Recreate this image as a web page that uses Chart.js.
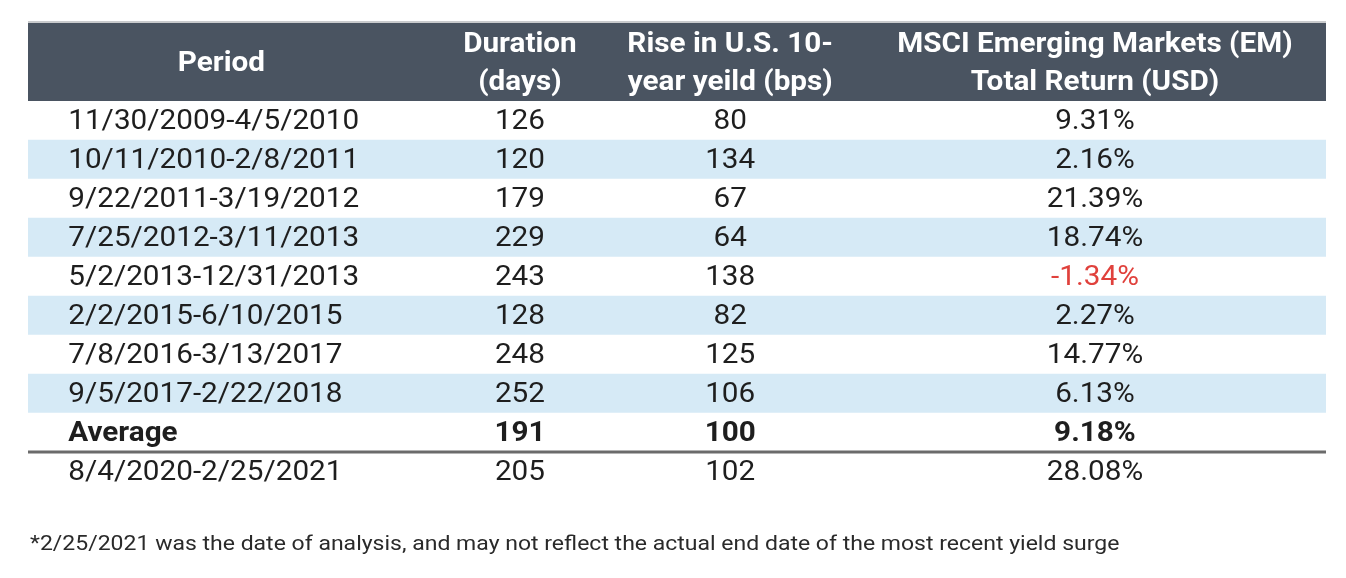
<!DOCTYPE html>
<html>
<head>
<meta charset="utf-8">
<script src="https://cdn.jsdelivr.net/npm/chart.js@4"></script>
<style>
    html, body { margin: 0; padding: 0; background: #ffffff; }
    #wrap { width: 1346px; height: 578px; }
</style>
</head>
<body>
<div id="wrap"><canvas id="table-chart"></canvas></div>
<script>
// 数据
const periods = [
    '11/30/2009-4/5/2010',
    '10/11/2010-2/8/2011',
    '9/22/2011-3/19/2012',
    '7/25/2012-3/11/2013',
    '5/2/2013-12/31/2013',
    '2/2/2015-6/10/2015',
    '7/8/2016-3/13/2017',
    '9/5/2017-2/22/2018',
    'Average',
    '8/4/2020-2/25/2021'
];
const durations = [126, 120, 179, 229, 243, 128, 248, 252, 191, 205];
const yieldRise = [80, 134, 67, 64, 138, 82, 125, 106, 100, 102];
const emReturns = [9.31, 2.16, 21.39, 18.74, -1.34, 2.27, 14.77, 6.13, 9.18, 28.08];
const headers = [
    ['Period'],
    ['Duration', '(days)'],
    ['Rise in U.S. 10-', 'year yeild (bps)'],
    ['MSCI Emerging Markets (EM)', 'Total Return (USD)']
];
const footnote = '*2/25/2021 was the date of analysis, and may not reflect the actual end date of the most recent yield surge';

// 列位置 (x 轴 0-100)
const colX = [3.1, 37.9, 54.1, 82.2];
const headerX = [14.9, 37.9, 54.1, 82.2];
const FONT = 'Roboto, "Liberation Sans", sans-serif';

// 横向拉伸绘制文字
function drawText(ctx, text, px, py, sx, align) {
    ctx.save();
    ctx.translate(px, py);
    ctx.scale(sx, 1);
    ctx.textAlign = align;
    ctx.fillText(text, 0, 0);
    ctx.restore();
}

// 绘制表格文字
const tablePlugin = {
    id: 'tableText',
    afterDatasetsDraw(chart) {
        const ctx = chart.ctx;
        const x = chart.scales.x;
        const y = chart.scales.y;
        const area = chart.chartArea;
        const headTop = 23;

        ctx.save();
        ctx.textBaseline = 'middle';
        // 表头
        ctx.fillStyle = '#c9cbcd';
        ctx.fillRect(area.left, headTop - 2, area.right - area.left, 2);
        ctx.fillStyle = '#4a5461';
        ctx.fillRect(area.left, headTop, area.right - area.left, area.top - headTop);
        ctx.fillStyle = '#ffffff';
        ctx.font = 'bold 27px ' + FONT;
        const headMid = (headTop + area.top) / 2 + 2;
        headers.forEach((lines, i) => {
            const px = x.getPixelForValue(headerX[i]);
            lines.forEach((line, j) => {
                const py = lines.length === 1 ? headMid : headMid + (j - 0.5) * 38;
                drawText(ctx, line, px, py, 1.1, 'center');
            });
        });

        // 表格内容
        periods.forEach((p, i) => {
            const py = y.getPixelForValue(i) + 2;
            const bold = p === 'Average';
            ctx.font = (bold ? 'bold ' : '') + '27px ' + FONT;
            ctx.fillStyle = '#1e1e1e';
            drawText(ctx, p, x.getPixelForValue(colX[0]), py, 1.1, 'left');
            drawText(ctx, String(durations[i]), x.getPixelForValue(colX[1]), py, 1.1, 'center');
            drawText(ctx, String(yieldRise[i]), x.getPixelForValue(colX[2]), py, 1.1, 'center');
            ctx.fillStyle = emReturns[i] < 0 ? '#e0413c' : '#1e1e1e';
            drawText(ctx, emReturns[i].toFixed(2) + '%', x.getPixelForValue(colX[3]), py, 1.1, 'center');
        });

        // 平均值下方分隔线
        const avgIdx = periods.indexOf('Average');
        const lineY = (y.getPixelForValue(avgIdx) + y.getPixelForValue(avgIdx + 1)) / 2;
        ctx.fillStyle = '#6b6b6b';
        ctx.fillRect(area.left, lineY - 1.5, area.right - area.left, 3);

        // 脚注
        ctx.font = '19.5px ' + FONT;
        ctx.fillStyle = '#2a2a2a';
        drawText(ctx, footnote, 30, 545, 1.18, 'left');
        ctx.restore();
    }
};

// 行背景 (隔行浅蓝, 平均值及之后为白色)
const avgRow = periods.indexOf('Average');
const rowColors = periods.map((p, i) => (i % 2 === 1 && i < avgRow) ? '#d6eaf6' : '#ffffff');

const canvas = document.getElementById('table-chart');
window.tableChart = new Chart(canvas, {
    type: 'bar',
    data: {
        labels: periods,
        datasets: [{
            data: periods.map(() => [0, 100]),
            backgroundColor: rowColors,
            borderWidth: 0,
            barPercentage: 1,
            categoryPercentage: 1
        }]
    },
    options: {
        indexAxis: 'y',
        responsive: true,
        maintainAspectRatio: false,
        animation: false,
        layout: {
            padding: { left: 28, right: 20, top: 101, bottom: 87 }
        },
        scales: {
            x: { type: 'linear', min: 0, max: 100, display: false },
            y: { type: 'category', display: false }
        },
        plugins: {
            legend: { display: false },
            tooltip: { enabled: false }
        }
    },
    plugins: [tablePlugin]
});
</script>
</body>
</html>
